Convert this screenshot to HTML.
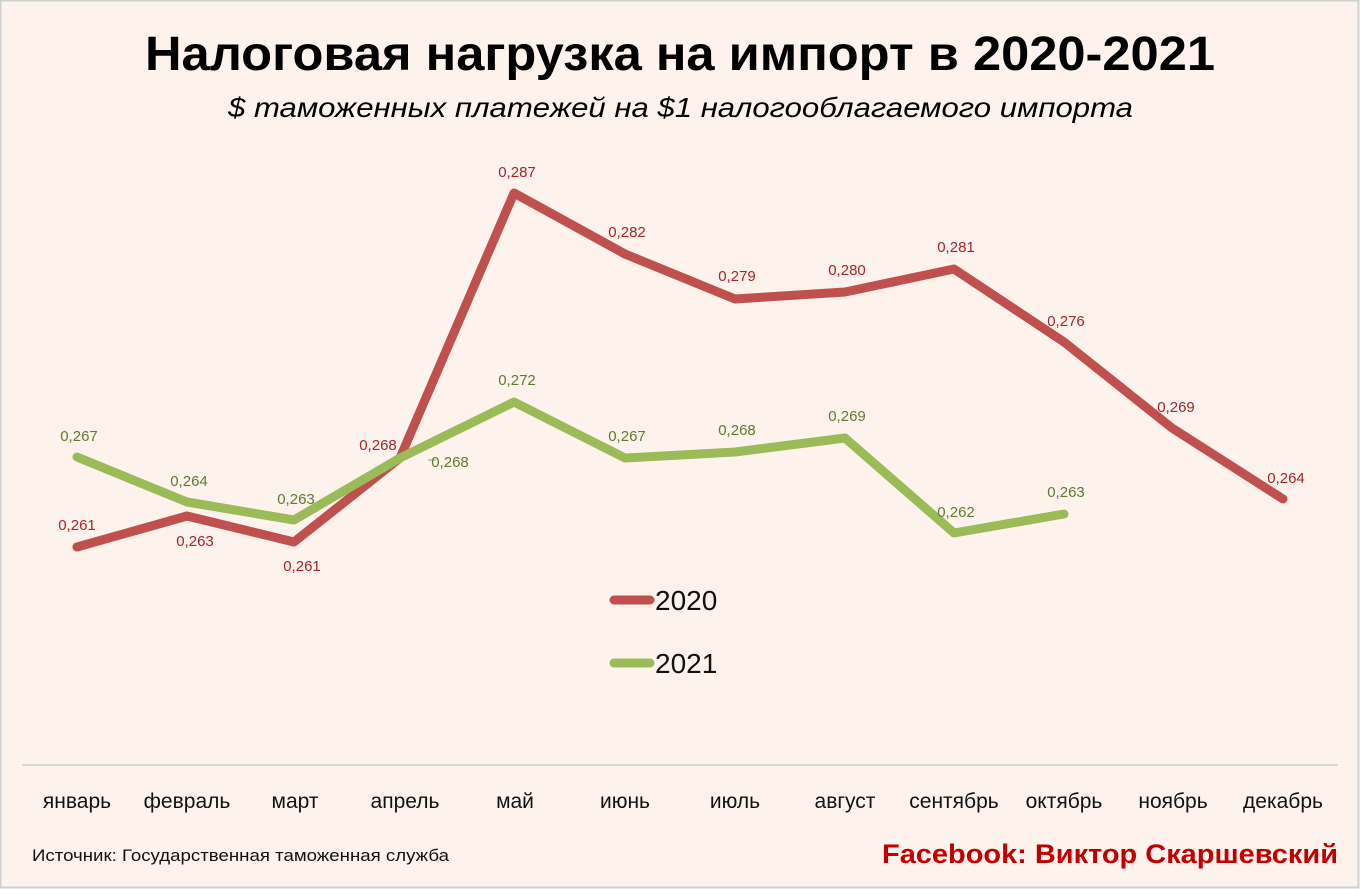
<!DOCTYPE html>
<html><head><meta charset="utf-8"><style>
body{margin:0;width:1360px;height:889px;overflow:hidden;background:#fff}
svg{display:block}
text{font-family:"Liberation Sans","DejaVu Sans",sans-serif}
</style></head><body>
<svg width="1360" height="889" xmlns="http://www.w3.org/2000/svg">
<rect x="0.5" y="0.5" width="1358" height="887" fill="#fdf3ec" stroke="#d0d0d0" stroke-width="2"/>
<text x="145" y="70" textLength="1070" lengthAdjust="spacingAndGlyphs" font-size="48" font-weight="bold" fill="#000">Налоговая нагрузка на импорт в 2020-2021</text>
<text x="228" y="117" textLength="905" lengthAdjust="spacingAndGlyphs" font-size="28" font-style="italic" fill="#000">$ таможенных платежей на $1 налогооблагаемого импорта</text>
<line x1="22" y1="765" x2="1338" y2="765" stroke="#d9d9d9" stroke-width="2"/>
<g font-size="21" fill="#111" text-anchor="middle">
<text x="77" y="808">январь</text><text x="187" y="808">февраль</text><text x="295" y="808">март</text><text x="405" y="808">апрель</text><text x="515" y="808">май</text><text x="625" y="808">июнь</text><text x="735" y="808">июль</text><text x="845" y="808">август</text><text x="954" y="808">сентябрь</text><text x="1064" y="808">октябрь</text><text x="1173" y="808">ноябрь</text><text x="1283" y="808">декабрь</text>
</g>
<text x="32" y="861" textLength="417" lengthAdjust="spacingAndGlyphs" font-size="17" fill="#111">Источник: Государственная таможенная служба</text>
<text x="882" y="863" textLength="456" lengthAdjust="spacingAndGlyphs" font-size="27" font-weight="bold" fill="#c00000">Facebook: Виктор Скаршевский</text>
<polyline fill="none" stroke="#c0504d" stroke-width="9" stroke-linejoin="round" stroke-linecap="round" points="77,547 187,516 294,542 400,458 514,193 625,254 735,299 845,292 954,269 1064,342 1172,428 1283,499"/>
<polyline fill="none" stroke="#9bbb59" stroke-width="9" stroke-linejoin="round" stroke-linecap="round" points="77,457 187,502 294,520 400,458 514,402 625,458 735,452 845,438 954,533 1064,514"/>
<line x1="428" y1="460" x2="436" y2="460" stroke="#999" stroke-width="1"/>
<g font-size="15" fill="#a5252a" text-anchor="middle">
<text x="77" y="530">0,261</text><text x="195" y="546">0,263</text><text x="302" y="571">0,261</text><text x="378" y="450">0,268</text><text x="517" y="177">0,287</text><text x="627" y="237">0,282</text><text x="737" y="281">0,279</text><text x="847" y="275">0,280</text><text x="956" y="252">0,281</text><text x="1066" y="326">0,276</text><text x="1176" y="412">0,269</text><text x="1286" y="483">0,264</text>
</g>
<g font-size="15" fill="#5f7a33" text-anchor="middle">
<text x="79" y="441">0,267</text><text x="189" y="486">0,264</text><text x="296" y="504">0,263</text><text x="450" y="467">0,268</text><text x="517" y="385">0,272</text><text x="627" y="441">0,267</text><text x="737" y="435">0,268</text><text x="847" y="421">0,269</text><text x="956" y="517">0,262</text><text x="1066" y="497">0,263</text>
</g>
<line x1="614" y1="600" x2="650" y2="600" stroke="#c0504d" stroke-width="9" stroke-linecap="round"/>
<text x="655" y="610" font-size="28" fill="#111">2020</text>
<line x1="614" y1="663" x2="650" y2="663" stroke="#9bbb59" stroke-width="9" stroke-linecap="round"/>
<text x="655" y="673" font-size="28" fill="#111">2021</text>
</svg>
</body></html>
